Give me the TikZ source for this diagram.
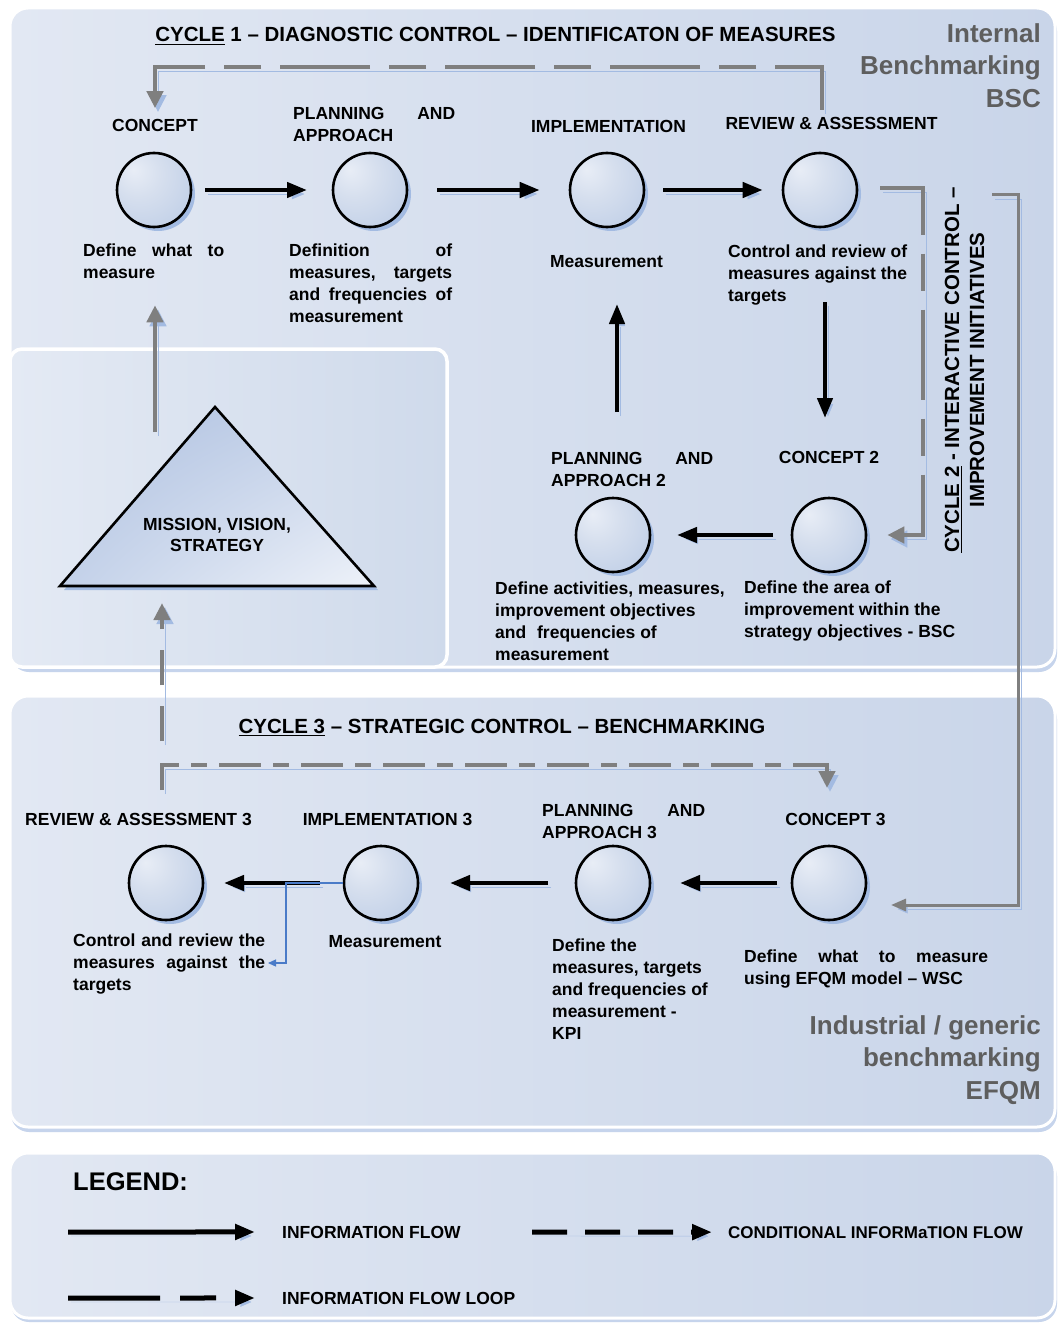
\documentclass[tikz,border=0pt]{standalone}
\usepackage{fontspec}
\setmainfont{Liberation Sans}
\usetikzlibrary{arrows.meta,calc,shadows,shadings}
\definecolor{panL}{HTML}{E2E8F3}
\definecolor{panR}{HTML}{C9D5E9}
\definecolor{inL}{HTML}{E4EAF4}
\definecolor{inR}{HTML}{CFDAEB}
\definecolor{panS}{HTML}{C6D4EC}
\definecolor{shadowb}{HTML}{A3BBE2}
\definecolor{lineg}{HTML}{7F7F7F}
\definecolor{textg}{HTML}{5E5E5E}
\definecolor{bluel}{HTML}{4A7BC8}
\definecolor{bubA}{HTML}{E8EDF6}
\definecolor{bubB}{HTML}{D6DFEE}
\definecolor{bubC}{HTML}{AABFE0}
\definecolor{triUL}{HTML}{AFC1E0}
\definecolor{triUR}{HTML}{C6D3EA}
\definecolor{triLL}{HTML}{C3D1E9}
\definecolor{triLR}{HTML}{EEF2F9}
\pgfdeclareradialshading{bubble}{\pgfpoint{-14bp}{14bp}}{color(0bp)=(bubA); color(16bp)=(bubB); color(62bp)=(bubC); color(75bp)=(bubC)}
\newcommand\ulx[1]{\setbox0\hbox{#1}\rlap{\rule[-3.2pt]{\wd0}{1.6pt}}\box0\relax}
\newcommand\jst[2]{\makebox[#1][s]{#2}}
\tikzset{
  bub/.style={circle, draw=black, line width=2.6pt, minimum size=74pt, inner sep=0pt, shading=bubble,
     drop shadow={shadow xshift=4pt, shadow yshift=-4pt, fill=shadowb, opacity=1}},
  lbl/.style={inner sep=0pt, font=\fontsize{17.5}{22}\selectfont\bfseries, align=left},
  ttl/.style={inner sep=0pt, font=\fontsize{20.5}{25}\selectfont\bfseries},
  big/.style={inner sep=0pt, font=\fontsize{26}{32.5}\selectfont\bfseries, text=textg, align=right},
  sh/.style={preaction={draw=shadowb, transform canvas={shift={(3pt,-4pt)}}}},
  flow/.style={sh, draw=black, line width=4.3pt, -{Triangle[length=20pt,width=15pt]}},
  gflow/.style={sh, draw=lineg, line width=4.3pt, line join=miter, -{Triangle[length=17pt,width=16pt]}},
  loopd/.style={dash pattern=on 90pt off 19pt on 37pt off 19pt},
  condd/.style={dash pattern=on 42pt off 12pt on 16pt off 12pt},
  panel/.style={left color=panL, right color=panR, rounded corners=18pt},
  panelrim/.style={draw=white, line width=3pt, rounded corners=18pt},
  panelsh/.style={fill=panS, rounded corners=18pt}
}
\begin{document}
\begin{tikzpicture}[x=1pt,y=-1pt]
\useasboundingbox (0,0) rectangle (1058,1324);
\fill[white] (0,0) rectangle (1058,1324);
% ---------- panels
\path[panelsh] (11,13) rectangle (1057,672);
\shade[panel] (10,8) rectangle (1055,667);
\draw[panelrim] (10,8) rectangle (1055,667);
\shade[left color=inL, right color=inR, rounded corners=12pt] (10,349) rectangle (447,667);
\draw[draw=white, line width=3.5pt, rounded corners=12pt] (10,349) rectangle (447,667);
\path[panelsh] (11,701) rectangle (1057,1132);
\shade[panel] (10,696) rectangle (1055,1127);
\draw[panelrim] (10,696) rectangle (1055,1127);
\path[panelsh] (11,1158) rectangle (1057,1322);
\shade[panel] (10,1153) rectangle (1055,1318);
\draw[panelrim] (10,1153) rectangle (1055,1318);
% ---------- triangle
\coordinate (tA) at (215,407);
\coordinate (tB) at (60,586);
\coordinate (tC) at (374,586);
\fill[shadowb] ([shift={(4,4)}]tA) -- ([shift={(4,4)}]tB) -- ([shift={(4,4)}]tC) -- cycle;
\shade[upper left=triUL, upper right=triUR, lower left=triLL, lower right=triLR] (tA) -- (tB) -- (tC) -- cycle;
\draw[line width=2.6pt, line join=miter] (tA) -- (tB) -- (tC) -- cycle;
\node[lbl, anchor=north, align=center, font=\fontsize{17.5}{21}\selectfont\bfseries] (msv) at (217,518) {MISSION, VISION,\\STRATEGY};
% ---------- circles
\node[bub] (c1) at (154,190) {};
\node[bub] (p1) at (370,190) {};
\node[bub] (i1) at (607,190) {};
\node[bub] (r1) at (820,190) {};
\node[bub] (p2) at (613,535) {};
\node[bub] (c2) at (829,535) {};
\node[bub] (r3) at (166,883) {};
\node[bub] (i3) at (381,883) {};
\node[bub] (p3) at (613,883) {};
\node[bub] (c3) at (829,883) {};
% ---------- titles
\node[ttl, anchor=base] (t1) at (495.5,42) {\ulx{CYCLE} 1 – DIAGNOSTIC CONTROL – IDENTIFICATON OF MEASURES};
\node[ttl, anchor=base] (t3) at (502,733) {\ulx{CYCLE 3} – STRATEGIC CONTROL – BENCHMARKING};
\node[ttl, rotate=90, align=center, font=\fontsize{20.5}{25}\selectfont\bfseries] (t2) at (964.5,370) {\ulx{CYCLE 2} - INTERACTIVE CONTROL –\\IMPROVEMENT INITIATIVES};
\node[big, anchor=north east] (bsc) at (1041,23) {Internal\\Benchmarking\\BSC};
\node[big, anchor=north east] (efqm) at (1041,1015) {Industrial / generic\\benchmarking\\EFQM};
% ---------- labels row 1
\node[lbl, anchor=base] (lc1) at (155,132) {CONCEPT};
\node[lbl, anchor=north west] (lp1) at (293,107) {\jst{162pt}{PLANNING AND}\\APPROACH};
\node[lbl, anchor=base] (li1) at (608.5,133) {IMPLEMENTATION};
\node[lbl, anchor=base] (lr1) at (831.5,130) {REVIEW \& ASSESSMENT};
\node[lbl, anchor=north west] (dc1) at (83,244) {\jst{141pt}{Define what to}\\measure};
\node[lbl, anchor=north west] (dp1) at (289,244) {\jst{163pt}{Definition of}\\\jst{163pt}{measures, targets}\\\jst{163pt}{and frequencies of}\\measurement};
\node[lbl, anchor=base] (di1) at (606.5,268) {Measurement};
\node[lbl, anchor=north west] (dr1) at (728,245) {Control and review of\\measures against the\\targets};
% ---------- labels row 2
\node[lbl, anchor=north west] (lp2) at (551,452) {\jst{162pt}{PLANNING AND}\\APPROACH 2};
\node[lbl, anchor=base] (lc2) at (829,463) {CONCEPT 2};
\node[lbl, anchor=north west] (dp2) at (495,582) {Define activities, measures,\\improvement objectives\\and\hspace{6pt} frequencies of\\measurement};
\node[lbl, anchor=north west] (dc2) at (744,581) {Define the area of\\improvement within the\\strategy objectives - BSC};
% ---------- labels row 3
\node[lbl, anchor=base] (lr3) at (138.5,825) {REVIEW \& ASSESSMENT 3};
\node[lbl, anchor=base] (li3) at (387.5,825) {IMPLEMENTATION 3};
\node[lbl, anchor=north west] (lp3) at (542,804) {\jst{163pt}{PLANNING AND}\\APPROACH 3};
\node[lbl, anchor=base] (lc3) at (835.5,825) {CONCEPT 3};
\node[lbl, anchor=north west] (dr3) at (73,934) {\jst{192pt}{Control and review the}\\\jst{192pt}{measures against the}\\targets};
\node[lbl, anchor=base] (di3) at (385,947) {Measurement};
\node[lbl, anchor=north west] (dp3) at (552,939) {Define the\\measures, targets\\and frequencies of\\measurement -\\KPI};
\node[lbl, anchor=north west] (dc3) at (744,950) {\jst{244pt}{Define what to measure}\\using EFQM model – WSC};
% ---------- black flows
\draw[flow, shorten <=12.7pt, shorten >=24.7pt] (c1.east) -- (p1.west);
\draw[flow, shorten <=29pt, shorten >=29pt] (p1.east) -- (i1.west);
\draw[flow, shorten <=18pt, shorten >=19pt] (i1.east) -- (r1.west);
\draw[flow, shorten <=73.7pt, shorten >=78.7pt] ([xshift=5pt]r1.south) -- ([xshift=5pt]r1.south |- c2.north);
\draw[flow, shorten <=84.7pt, shorten >=75.7pt] ([xshift=4pt]p2.north) -- ([xshift=4pt]p2.north |- i1.south);
\draw[flow, shorten <=17.7pt, shorten >=25.7pt] (c2.west) -- (p2.east);
\draw[flow, shorten <=13.7pt, shorten >=28.7pt] (c3.west) -- (p3.east);
\draw[flow, shorten <=26.7pt, shorten >=30.7pt] (p3.west) -- (i3.east);
\draw[flow, shorten <=22.7pt, shorten >=19.7pt] (i3.west) -- (r3.east);
% ---------- gray flows
\coordinate (g1a) at (822,110);
\coordinate (g1b) at (155,67);
\draw[gflow, loopd, shorten >=11.4pt] (g1a) |- (g1b) -- (lc1.north);
\coordinate (g2a) at (880,188);
\draw[gflow, loopd, shorten >=20pt] (g2a) -| ($(c2.east)+(56,0)$) -- (c2.east);
\coordinate (g4a) at (992,195);
\coordinate (g4b) at (1018,905);
\coordinate (g4c) at (891,905);
\draw[gflow, line width=3pt, -{Triangle[length=15pt,width=12pt]}] (g4a) -| (g4b) -- (g4c);
\coordinate (g5a) at (155,432);
\draw[gflow, shorten >=26pt] (g5a) -- (dc1.south -| g5a);
\coordinate (g3a) at (162,790);
\coordinate (g3b) at (162,765);
\coordinate (g3e) at (827,788);
\draw[gflow, condd] (g3a) |- (g3e |- g3b) -- (g3e);
\coordinate (g3v) at (162,741);
\coordinate (g3t) at (162,603);
\draw[gflow, dash pattern=on 35pt off 21pt] (g3v) -- (g3t);
% ---------- blue thin
\coordinate (bk) at (286,963);
\coordinate (bt) at (268,963);
\draw[bluel, line width=1.3pt, -{Triangle[length=8pt,width=7pt]}] (i3.west) -| (bk) -- (bt);
% ---------- legend
\node[inner sep=0pt, font=\fontsize{25.5}{30}\selectfont\bfseries, anchor=base west] (lg) at (73,1190) {LEGEND:};
\node[lbl, anchor=base west] (lt1) at (282,1238) {INFORMATION FLOW};
\node[lbl, anchor=base west] (lt2) at (282,1304) {INFORMATION FLOW LOOP};
\node[lbl, anchor=base west, font=\fontsize{17}{20}\selectfont\bfseries] (lt3) at (728,1238) {CONDITIONAL INFORMaTION FLOW};
\coordinate (la1) at (68,1232);
\coordinate (la2) at (68,1298);
\coordinate (la3) at (532,1232);
\draw[flow, line width=5pt, shorten >=27pt] (la1) -- (lt1.west);
\draw[flow, line width=5pt, dash pattern=on 92pt off 20pt on 36pt off 40pt, shorten >=27pt] (la2) -- (lt2.west);
\draw[flow, line width=5pt, dash pattern=on 35pt off 18pt, shorten >=16pt] (la3) -- (lt3.west);
\end{tikzpicture}
\end{document}
